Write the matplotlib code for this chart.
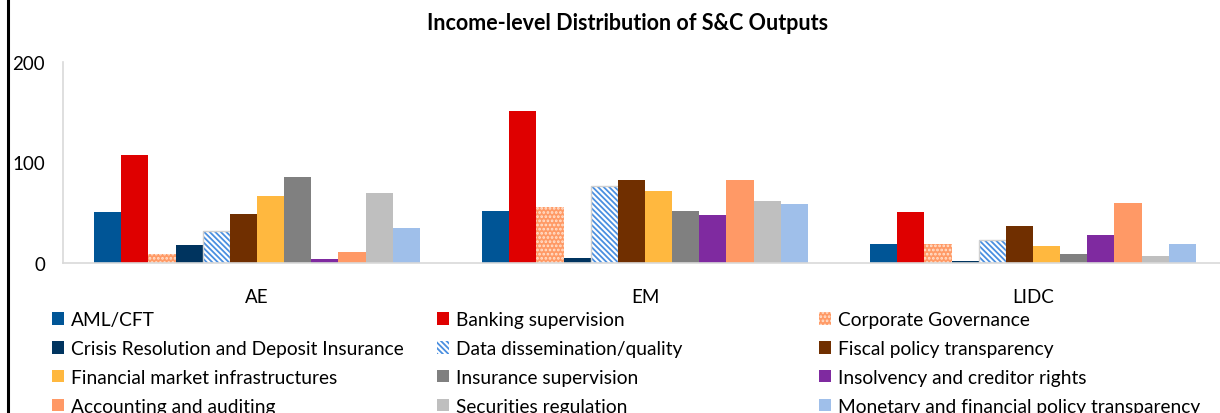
import numpy as np
import matplotlib.pyplot as plt
from matplotlib.lines import Line2D

plt.rcParams['font.family'] = ['Lato', 'DejaVu Sans']
plt.rcParams['hatch.linewidth'] = 1.3

groups = ['AE', 'EM', 'LIDC']
topics = ['AML/CFT', 'Banking supervision', 'Corporate Governance',
          'Crisis Resolution and Deposit Insurance', 'Data dissemination/quality',
          'Fiscal policy transparency', 'Financial market infrastructures',
          'Insurance supervision', 'Insolvency and creditor rights',
          'Accounting and auditing', 'Securities regulation',
          'Monetary and financial policy transparency']

ae = [51, 107, 9, 18, 32, 49, 67, 86, 4, 11, 70, 35]
em = [52, 151, 56, 5, 77, 83, 72, 52, 48, 83, 62, 59]
lidc = [19, 51, 19, 2, 23, 37, 17, 9, 28, 60, 7, 19]

colors = ['#005596', '#df0000', '#ff9a66', '#00345f', '#ffffff', '#702f00',
          '#ffb83f', '#808080', '#7f2aa0', '#ff9966', '#bfbfbf', '#9fbfea']
hatch_colors = [None, None, '#ffe2cf', None, '#4a8fe0', None,
                None, None, None, None, None, None]
hatches = [None, None, '....', None, '\\\\\\\\\\\\', None,
           None, None, None, None, None, None]

W, H = 1220, 414
fig = plt.figure(figsize=(W / 100, H / 100), dpi=100)
ax = fig.add_axes([63 / W, 1 - 264 / H, 1164 / W, 201 / H])

vals = np.array([ae, em, lidc])
x = np.arange(len(groups))
w = 0.07
n = len(topics)
handles = []
for i, t in enumerate(topics):
    pos = x - n * w / 2 + (i + 0.5) * w
    if hatches[i]:
        b = ax.bar(pos, vals[:, i], w, color=colors[i], hatch=hatches[i],
                   edgecolor=hatch_colors[i], linewidth=0)
        if i == 4:
            ax.bar(pos, vals[:, i], w, fill=False, edgecolor='#d0d0d0', linewidth=1)
    else:
        b = ax.bar(pos, vals[:, i], w, color=colors[i], linewidth=0)
    handles.append(b)

ax.set_xlim(-0.5, 2.5)
ax.set_ylim(0, 200)
ax.set_yticks([0, 100, 200])
ax.set_xticks(x)
ax.set_xticklabels(groups)
ax.tick_params(axis='both', length=0, labelsize=13.5, colors='#000000')
ax.tick_params(axis='y', pad=13)
ax.tick_params(axis='x', pad=18)
for s in ['top', 'right']:
    ax.spines[s].set_visible(False)
for s in ['left', 'bottom']:
    ax.spines[s].set_color('#d9d9d9')
    ax.spines[s].set_linewidth(1.2)

fig.text(628 / W, 1 - 23 / H, 'Income-level Distribution of S&C Outputs',
         ha='center', va='center', fontsize=15.5, fontweight='bold')

# three legend columns, filled row by row like the original
col_x = [52, 437, 819]
for c in range(3):
    idx = list(range(c, n, 3))
    leg = fig.legend([handles[k] for k in idx], [topics[k] for k in idx],
                     loc='upper left', bbox_to_anchor=(col_x[c] / W, 1 - 312 / H),
                     frameon=False, fontsize=13.8, handlelength=0.65, handleheight=0.65,
                     handletextpad=0.35, labelspacing=0.62, borderpad=0,
                     borderaxespad=0)

fig.add_artist(Line2D([8 / W, 8 / W], [0, 1], color='black', lw=2.2))

fig.savefig('out.png', dpi=100)
